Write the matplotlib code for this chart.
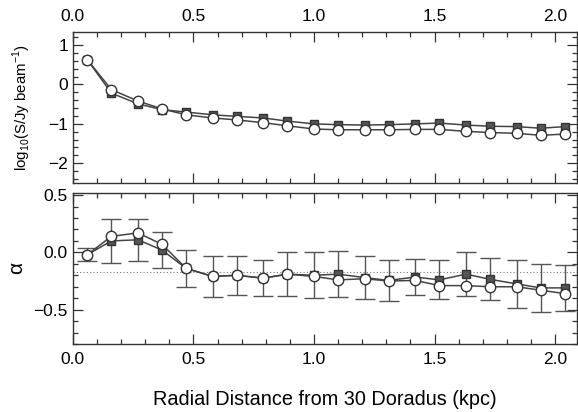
import matplotlib
matplotlib.use("Agg")
import matplotlib.pyplot as plt
from matplotlib.ticker import MultipleLocator

plt.rcParams["font.family"] = ["Liberation Sans", "DejaVu Sans"]
plt.rcParams["mathtext.fontset"] = "custom"
plt.rcParams["mathtext.rm"] = "Liberation Sans"

# radial distance (kpc)
radius = [0.06, 0.16, 0.27, 0.37, 0.47, 0.58, 0.68, 0.79, 0.89, 1.00,
          1.10, 1.21, 1.31, 1.42, 1.52, 1.63, 1.73, 1.84, 1.94, 2.04]

# log10 surface brightness
flux_sq = [0.63, -0.22, -0.49, -0.64, -0.70, -0.77, -0.81, -0.85, -0.93, -1.00,
           -1.02, -1.03, -1.02, -1.00, -0.98, -1.03, -1.06, -1.07, -1.11, -1.07]
flux_circ = [0.63, -0.13, -0.42, -0.62, -0.77, -0.85, -0.90, -0.97, -1.05, -1.13,
             -1.15, -1.15, -1.15, -1.14, -1.14, -1.19, -1.22, -1.24, -1.29, -1.26]

# spectral index
alpha_sq = [-0.02, 0.10, 0.11, 0.02, -0.14, -0.21, -0.20, -0.225, -0.19, -0.20,
            -0.19, -0.22, -0.245, -0.215, -0.24, -0.19, -0.235, -0.275, -0.31, -0.31]
alpha_circ = [-0.02, 0.14, 0.17, 0.07, -0.14, -0.21, -0.20, -0.225, -0.19, -0.21,
              -0.24, -0.23, -0.25, -0.245, -0.29, -0.29, -0.30, -0.30, -0.33, -0.36]
alpha_err = [0.055, 0.19, 0.185, 0.155, 0.165, 0.18, 0.17, 0.155, 0.19, 0.20,
             0.20, 0.19, 0.18, 0.155, 0.17, 0.19, 0.185, 0.21, 0.21, 0.20]
alpha_ref = -0.17

LINE = "#444444"
XT = [0, 0.5, 1.0, 1.5, 2.0]
XTL = ["0.0", "0.5", "1.0", "1.5", "2.0"]

fig = plt.figure(figsize=(5.78, 4.12), dpi=100)
ax1 = fig.add_axes([0.126, 0.556, 0.872, 0.366])
ax2 = fig.add_axes([0.126, 0.165, 0.872, 0.367])


def style(ax):
    ax.set_xlim(0, 2.09)
    ax.set_xticks(XT)
    ax.set_xticklabels(XTL)
    ax.xaxis.set_minor_locator(MultipleLocator(0.1))
    ax.tick_params(which="both", direction="in", top=True, right=True,
                   labelsize=12.5, color="#333333", width=0.9)
    ax.tick_params(which="major", length=7)
    ax.tick_params(which="minor", length=3.5)
    ax.tick_params(axis="x", pad=6)
    for s in ax.spines.values():
        s.set_color("#333333")
        s.set_linewidth(1.0)


# top panel
style(ax1)
ax1.plot(radius, flux_sq, "-s", color=LINE, lw=1.1, ms=5.5,
         mfc="#555555", mec="#333333")
ax1.plot(radius, flux_circ, "-o", color=LINE, lw=1.1, ms=7.5,
         mfc="white", mec="#333333", mew=1.0)
ax1.set_ylim(-2.5, 1.33)
ax1.set_yticks([-2, -1, 0, 1])
ax1.set_yticklabels(["\u22122", "\u22121", "0", "1"])
ax1.yaxis.set_minor_locator(MultipleLocator(0.2))
ax1.tick_params(labeltop=True, labelbottom=False)
ax1.set_ylabel(r"log$_{\mathrm{10}}$(S/Jy beam$^{\mathrm{-1}}$)", fontsize=10.8)
ax1.yaxis.set_label_coords(-0.08, 0.5)

# bottom panel
style(ax2)
ax2.axhline(alpha_ref, color="#777777", lw=0.8, ls=(0, (1, 2)))
ax2.errorbar(radius, alpha_sq, yerr=alpha_err, fmt="none", ecolor="#555555",
             elinewidth=1.0, capsize=7, capthick=1.0)
ax2.plot(radius, alpha_sq, "-s", color=LINE, lw=1.1, ms=5.5,
         mfc="#555555", mec="#333333")
ax2.plot(radius, alpha_circ, "-o", color=LINE, lw=1.1, ms=7.5,
         mfc="white", mec="#333333", mew=1.0)
ax2.set_ylim(-0.8, 0.52)
ax2.set_yticks([-0.5, 0.0, 0.5])
ax2.set_yticklabels(["\u22120.5", "0.0", "0.5"])
ax2.yaxis.set_minor_locator(MultipleLocator(0.1))
ax2.set_ylabel("\u03b1", fontsize=15)
ax2.yaxis.set_label_coords(-0.092, 0.5)
ax2.set_xlabel("Radial Distance from 30 Doradus (kpc)", fontsize=14.3,
               labelpad=16)

fig.savefig("out.png", dpi=100)
